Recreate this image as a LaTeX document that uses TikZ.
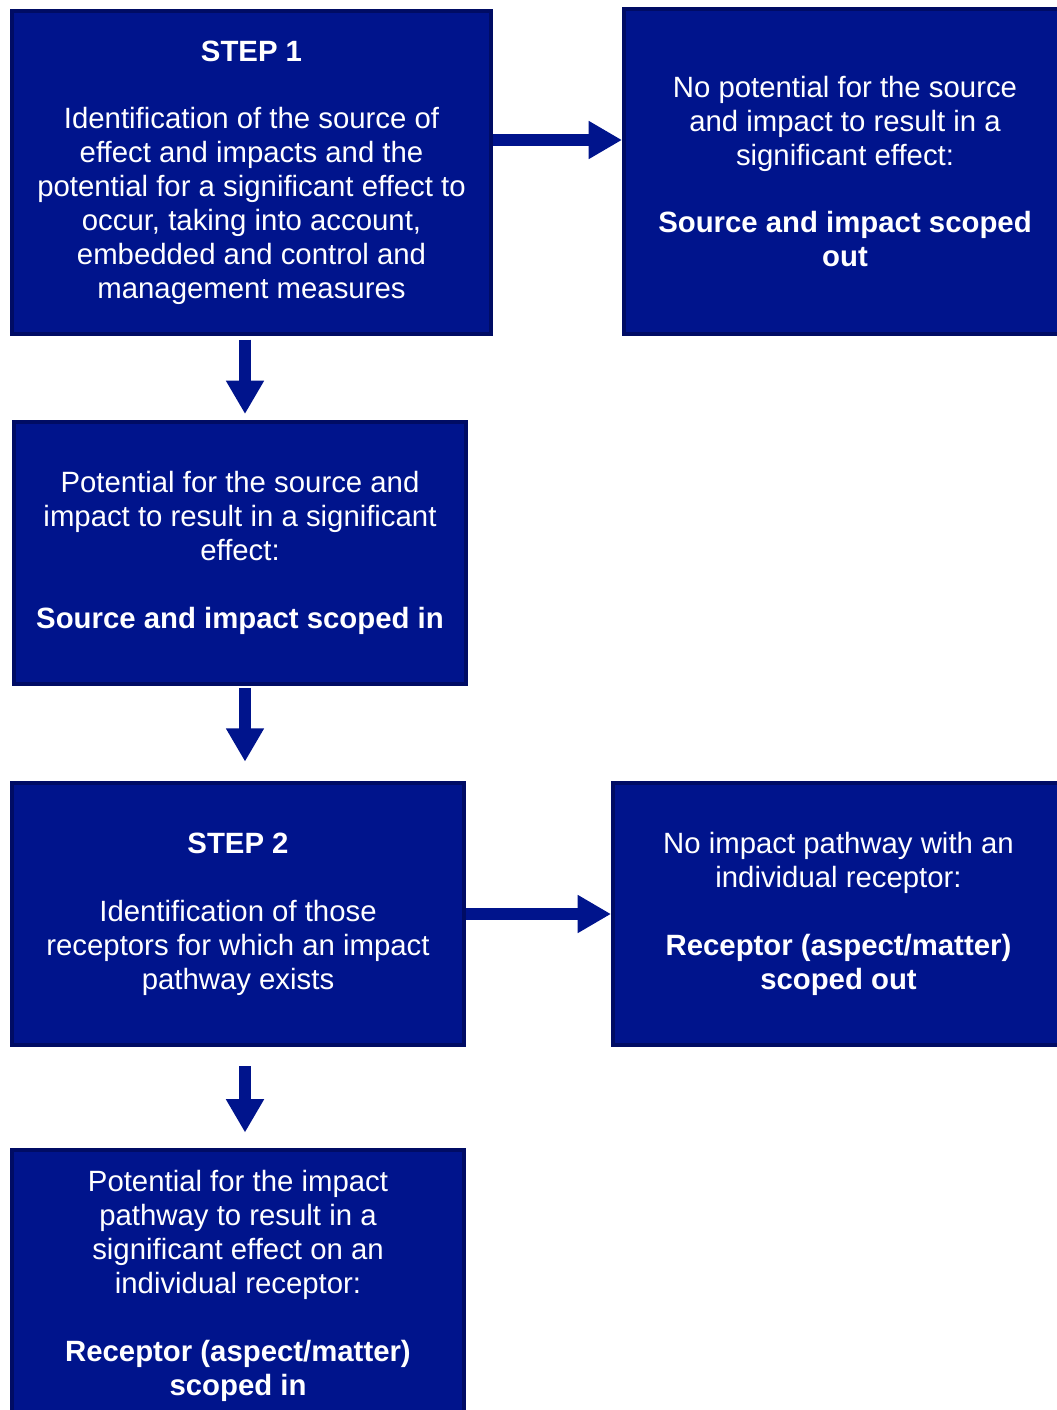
\documentclass[tikz,border=0pt]{standalone}
\usepackage{fontspec}
\setmainfont{Liberation Sans}
\usepackage{tikz}
\usetikzlibrary{arrows.meta,positioning,calc}
\definecolor{boxfill}{RGB}{0,20,140}
\definecolor{boxline}{RGB}{0,12,100}
\tikzset{
  stepbox/.style={rectangle, draw=boxline, line width=2.3pt, fill=boxfill,
                  text=white, align=center, inner sep=0pt,
                  font=\fontsize{16.7}{19.3}\selectfont},
  fat/.style={draw=boxfill, line width=6.8pt,
              -{Triangle[length=19pt,width=20.4pt]}},
}

\begin{document}
\begin{tikzpicture}[x=0.02cm,y=-0.02cm]
\useasboundingbox[fill=white] (0,0) rectangle (1057,1410);
\node[stepbox, minimum width=9.58cm, minimum height=6.46cm] (step1) at (251.5,172.5)
  {\textbf{STEP 1}\\[19.3pt]
   Identification of the source of\\
   effect and impacts and the\\
   potential for a significant effect to\\
   occur, taking into account,\\
   embedded and control and\\
   management measures};
\node[stepbox, minimum width=8.84cm, minimum height=6.5cm] (noSrc) at (845,171.5)
  {No potential for the source\\
   and impact to result in a\\
   significant effect:\\[19.3pt]
   \textbf{Source and impact scoped}\\
   \textbf{out}};
\node[stepbox, minimum width=9.04cm, minimum height=5.24cm] (srcIn) at (240,553)
  {Potential for the source and\\
   impact to result in a significant\\
   effect:\\[19.3pt]
   \textbf{Source and impact scoped in}};
\node[stepbox, minimum width=9.04cm, minimum height=5.24cm] (step2) at (238,914)
  {\textbf{STEP 2}\\[19.3pt]
   Identification of those\\
   receptors for which an impact\\
   pathway exists};
\node[stepbox, minimum width=9.02cm, minimum height=5.24cm] (noPath) at (838.5,914)
  {No impact pathway with an\\
   individual receptor:\\[19.3pt]
   \textbf{Receptor (aspect/matter)}\\
   \textbf{scoped out}};
\node[stepbox, minimum width=9.04cm, minimum height=5.46cm] (recIn) at (238,1286)
  {Potential for the impact\\
   pathway to result in a\\
   significant effect on an\\
   individual receptor:\\[19.3pt]
   \textbf{Receptor (aspect/matter)}\\
   \textbf{scoped in}};
\coordinate (ya) at (0,140);
\coordinate (xa) at (245,0);
\draw[fat] (step1.east |- ya) -- (noSrc.west |- ya);
\draw[fat] (step2.east) -- (noPath.west);
\draw[fat, shorten <=2pt, shorten >=3.4pt] (step1.south -| xa) -- (srcIn.north -| xa);
\draw[fat, shorten <=1pt, shorten >=11pt] (srcIn.south -| xa) -- (step2.north -| xa);
\draw[fat, shorten <=11pt, shorten >=8.5pt] (step2.south -| xa) -- (recIn.north -| xa);
\end{tikzpicture}
\end{document}
